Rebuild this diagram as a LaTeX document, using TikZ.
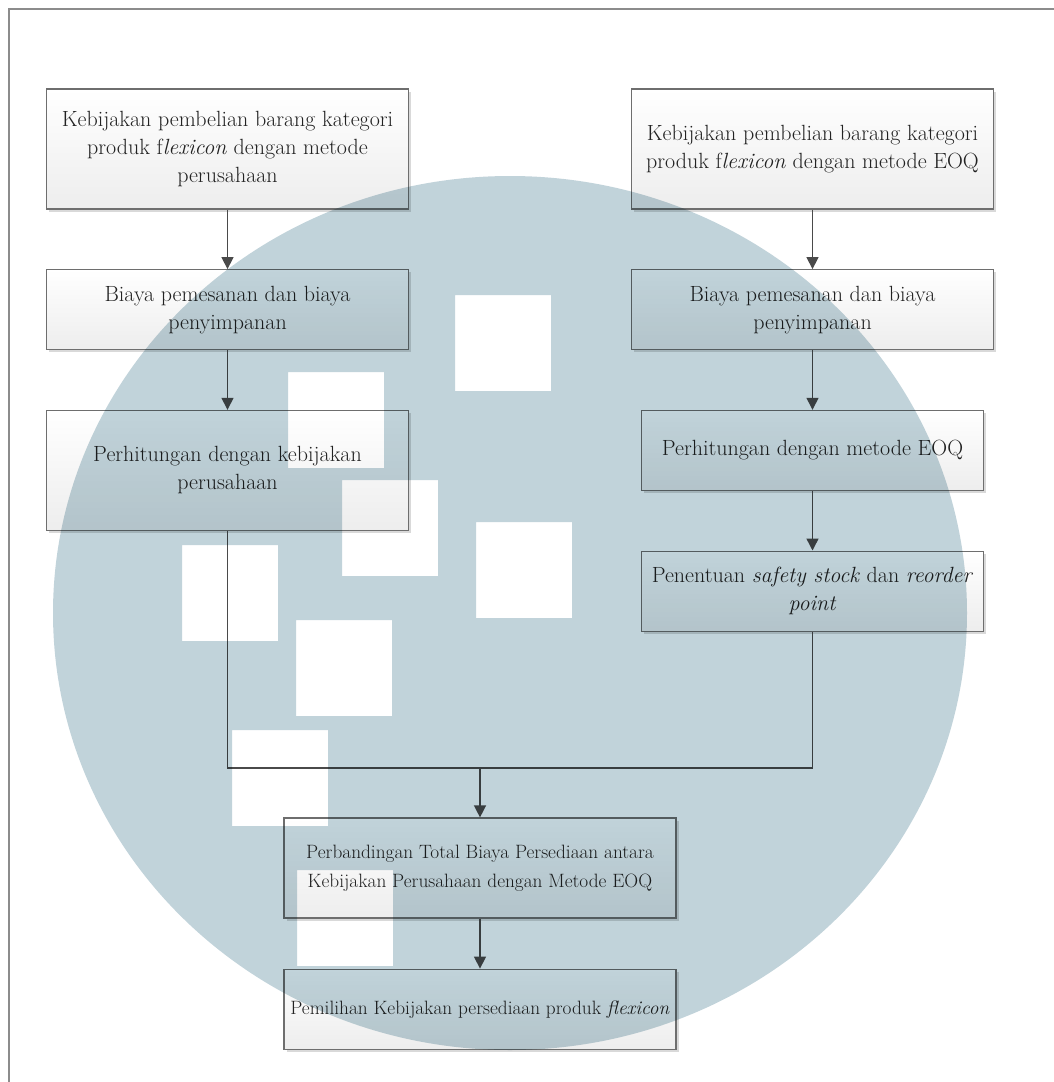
\documentclass[tikz,border=0pt]{standalone}
\usetikzlibrary{arrows.meta, positioning, shadows}
\definecolor{wmblue}{HTML}{C1D3DA}
\definecolor{boxline}{HTML}{6E6E6E}
\definecolor{txtgray}{HTML}{222222}
\definecolor{arrgray}{HTML}{4A4A4A}

\begin{document}
\begin{tikzpicture}[
  x=1pt, y=1pt,
  node distance=59.5pt,
  flowbox/.style={rectangle, draw=boxline, line width=1.2pt, top color=white, bottom color=black!7, minimum width=362pt, inner sep=2pt, align=center, text=txtgray, font=\fontsize{22}{28}\selectfont, drop shadow={shadow xshift=2.5pt, shadow yshift=-2.5pt, fill=black!25, opacity=0.6}},
  smallbox/.style={flowbox, minimum width=392pt, font=\fontsize{19.3}{29}\selectfont},
  arr/.style={-{Triangle[length=12pt, width=12pt]}, line width=1.4pt, color=arrgray},
  lnk/.style={line width=1.2pt, color=arrgray}
]
\useasboundingbox (0,0) rectangle (1053,-1082);
\draw[line width=1.5pt, black!45] (9,-9) rectangle (1080,-1110);

% kolom kiri: kebijakan perusahaan
\node[flowbox, minimum height=120pt] (kp1) at (227.5,-149) {Kebijakan pembelian barang kategori\\ produk f\textit{lexicon} dengan metode\\ perusahaan};
\node[flowbox, minimum height=80pt, below=of kp1] (kp2) {Biaya pemesanan dan biaya\\ penyimpanan};
\node[flowbox, minimum height=120pt, below=of kp2] (kp3) {Perhitungan dengan kebijakan\\ perusahaan};

% kolom kanan: metode EOQ
\node[flowbox, minimum height=120pt] (eq1) at (812.5,-149) {Kebijakan pembelian barang kategori\\ produk f\textit{lexicon} dengan metode EOQ};
\node[flowbox, minimum height=80pt, below=of eq1] (eq2) {Biaya pemesanan dan biaya\\ penyimpanan};
\node[flowbox, minimum height=80pt, minimum width=342pt, below=of eq2] (eq3) {Perhitungan dengan metode EOQ};
\node[flowbox, minimum height=80pt, minimum width=342pt, below=of eq3] (eq4) {Penentuan \textit{safety stock} dan \textit{reorder}\\ \textit{point}};

% gabungan
\coordinate (gab) at (480,-768);
\node[smallbox, minimum height=100pt] (bnd) at (480,-868) {Perbandingan Total Biaya Persediaan antara\\ Kebijakan Perusahaan dengan Metode EOQ};
\node[smallbox, minimum height=80pt, below=50pt of bnd] (pil) {Pemilihan Kebijakan persediaan produk \textit{flexicon}};

\draw[arr] (kp1) -- (kp2);
\draw[arr] (kp2) -- (kp3);
\draw[arr] (eq1) -- (eq2);
\draw[arr] (eq2) -- (eq3);
\draw[arr] (eq3) -- (eq4);
\draw[lnk] (kp3.south) |- (gab) -| (eq4.south);
\draw[arr] (gab) -- (bnd);
\draw[arr] (bnd) -- (pil);

% logo latar
\begin{scope}[blend mode=multiply]
\fill[wmblue, even odd rule] (510,-613) ellipse [x radius=457, y radius=437]
  \foreach \sx/\sy in {455/295, 288/372, 342/480, 476/522, 182/545, 296/620, 232/730, 297/870} {
    (\sx,-\sy) rectangle ++(96,-96)
  };
\end{scope}
\end{tikzpicture}
\end{document}
